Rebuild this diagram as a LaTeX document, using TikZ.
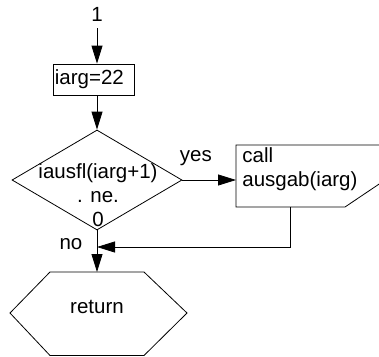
\documentclass[tikz,border=0pt]{standalone}
\usepackage{fontspec}
\setmainfont{Liberation Sans}
\usetikzlibrary{arrows.meta,shapes.geometric}

\begin{document}
\begin{tikzpicture}[x=1pt,y=-1pt,line width=0.8pt,
  arr/.style={-{Triangle[length=18pt,width=11pt]}},
  txt/.style={font=\fontsize{20.5}{24}\selectfont,inner sep=0pt},
  decision/.style={diamond,draw,minimum width=170pt,minimum height=100pt,inner sep=0pt}]
\useasboundingbox (0,0) rectangle (379,356);
\clip (0,0) rectangle (379,356);
\node[txt] (start) at (97,14) {1};
\node[draw,txt,anchor=west,minimum width=81pt,minimum height=31pt,text width=78pt,inner xsep=1.5pt,align=left] (init) at (53,79.5) {iarg=22};
\draw[arr,shorten <=7pt] (start.south) -- (start |- init.north);
\node[decision] (test) at (97,180) {};
\node[txt,align=center] (testtxt) at (98,195) {iausfl(iarg+1)\\. ne.\\0};
\draw[arr] (init.south -| start) -- (test.north);
% call box, cut off at the right
\draw[fill=white] (236,145) -- (400,145) -- (400,170) -- (345,207) -- (236,207) -- cycle;
\coordinate (callw) at (236,180);
\coordinate (calls) at (290,207);
\node[txt,anchor=north west,align=left] (calltxt) at (242,147) {call\\ausgab(iarg)};
\draw[arr] (test.east) -- (callw) node[txt,pos=0.25,above=14pt] (yes) {yes};
% return
\draw (50,272) -- (144,272) -- (187,313) -- (144,355.5) -- (50,355.5) -- (10,313) -- cycle;
\coordinate (retn) at (97,272);
\node[txt] (ret) at (97,307) {return};
\coordinate (merge) at (97,247);
\draw[arr] (test.south) -- (retn);
\draw[arr] (calls) |- (merge);
\node[txt] (no) at (71,244) {no};
\end{tikzpicture}
\end{document}
